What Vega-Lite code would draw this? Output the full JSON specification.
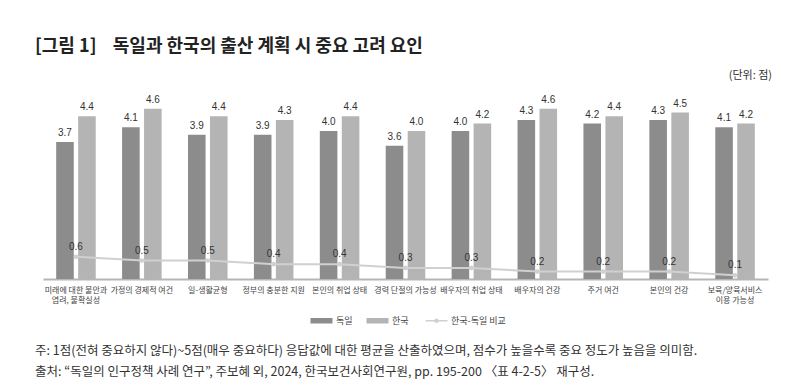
{
  "$schema": "https://vega.github.io/schema/vega-lite/v6.json",
  "padding": {"left": 35, "top": 38, "right": 10, "bottom": 0},
  "background": "white",
  "config": {
    "font": "Noto Sans CJK KR",
    "view": {"stroke": null},
    "axis": {"grid": false},
    "concat": {"spacing": 14}
  },
  "title": {
    "text": "[그림 1]\u00a0\u00a0\u00a0\u00a0독일과 한국의 출산 계획 시 중요 고려 요인",
    "anchor": "start",
    "fontSize": 18,
    "fontWeight": "bold",
    "color": "#222222",
    "offset": 14,
    "font": "Noto Sans CJK KR"
  },
  "datasets": {
    "bars": [
      {"category": "미래에 대한 불안과\n염려, 불확실성", "country": "독일", "value": 3.7},
      {"category": "미래에 대한 불안과\n염려, 불확실성", "country": "한국", "value": 4.4},
      {"category": "가정의 경제적 여건", "country": "독일", "value": 4.1},
      {"category": "가정의 경제적 여건", "country": "한국", "value": 4.6},
      {"category": "일-생활균형", "country": "독일", "value": 3.9},
      {"category": "일-생활균형", "country": "한국", "value": 4.4},
      {"category": "정부의 충분한 지원", "country": "독일", "value": 3.9},
      {"category": "정부의 충분한 지원", "country": "한국", "value": 4.3},
      {"category": "본인의 취업 상태", "country": "독일", "value": 4.0},
      {"category": "본인의 취업 상태", "country": "한국", "value": 4.4},
      {"category": "경력 단절의 가능성", "country": "독일", "value": 3.6},
      {"category": "경력 단절의 가능성", "country": "한국", "value": 4.0},
      {"category": "배우자의 취업 상태", "country": "독일", "value": 4.0},
      {"category": "배우자의 취업 상태", "country": "한국", "value": 4.2},
      {"category": "배우자의 건강", "country": "독일", "value": 4.3},
      {"category": "배우자의 건강", "country": "한국", "value": 4.6},
      {"category": "주거 여건", "country": "독일", "value": 4.2},
      {"category": "주거 여건", "country": "한국", "value": 4.4},
      {"category": "본인의 건강", "country": "독일", "value": 4.3},
      {"category": "본인의 건강", "country": "한국", "value": 4.5},
      {"category": "보육/양육서비스\n이용 가능성", "country": "독일", "value": 4.1},
      {"category": "보육/양육서비스\n이용 가능성", "country": "한국", "value": 4.2}
    ],
    "diff": [
      {"category": "미래에 대한 불안과\n염려, 불확실성", "diff": 0.6},
      {"category": "가정의 경제적 여건", "diff": 0.5},
      {"category": "일-생활균형", "diff": 0.5},
      {"category": "정부의 충분한 지원", "diff": 0.4},
      {"category": "본인의 취업 상태", "diff": 0.4},
      {"category": "경력 단절의 가능성", "diff": 0.3},
      {"category": "배우자의 취업 상태", "diff": 0.3},
      {"category": "배우자의 건강", "diff": 0.2},
      {"category": "주거 여건", "diff": 0.2},
      {"category": "본인의 건강", "diff": 0.2},
      {"category": "보육/양육서비스\n이용 가능성", "diff": 0.1}
    ],
    "notes": [
      {"line": 1, "text": "주: 1점(전혀 중요하지 않다)~5점(매우 중요하다) 응답값에 대한 평균을 산출하였으며, 점수가 높을수록 중요 정도가 높음을 의미함."},
      {"line": 2, "text": "출처: “독일의 인구정책 사례 연구”, 주보혜 외, 2024, 한국보건사회연구원, pp. 195-200 〈표 4-2-5〉 재구성."}
    ]
  },
  "vconcat": [
    {
      "width": 725,
      "height": 185,
      "title": {
        "text": "(단위: 점)",
        "anchor": "end",
        "fontSize": 11,
        "fontWeight": "normal",
        "color": "#333333",
        "dx": 4,
        "offset": 13
      },
      "layer": [
        {
          "data": {"name": "bars"},
          "mark": {"type": "bar"},
          "encoding": {
            "x": {
              "field": "category", "type": "nominal", "sort": null,
              "scale": {"paddingInner": 0.4, "paddingOuter": 0.2},
              "axis": {
                "title": null, "labelAngle": 0,
                "labelExpr": "split(datum.label, '\\n')",
                "labelFontSize": 8, "labelColor": "#444444",
                "labelPadding": 7, "labelLineHeight": 10,
                "labelBaseline": "top",
                "domainColor": "#b5b5b5", "domainWidth": 2,
                "ticks": false
              }
            },
            "xOffset": {"field": "country", "type": "nominal", "sort": ["독일", "한국"], "scale": {"paddingInner": 0.2}},
            "y": {
              "field": "value", "type": "quantitative", "scale": {"domain": [0, 5]},
              "axis": {"title": null, "labels": false, "ticks": false, "domain": false, "grid": false, "minExtent": 8, "maxExtent": 8}
            },
            "color": {
              "field": "country", "type": "nominal",
              "scale": {"domain": ["독일", "한국", "한국-독일 비교"], "range": ["#8c8c8c", "#b4b4b4", "#d0d0d0"]},
              "legend": {
                "title": null, "orient": "none", "legendX": 274, "legendY": 222,
                "direction": "horizontal", "labelFontSize": 9, "labelColor": "#444444",
                "labelOffset": 10, "columnPadding": 13, "symbolSize": 484,
                "encode": {
                  "symbols": {
                    "update": {
                      "shape": {"signal": "datum.value === '한국-독일 비교' ? 'M-1,0H1M-0.14,0A0.14,0.14,0,1,1,0.14,0A0.14,0.14,0,1,1,-0.14,0Z' : 'M-1,-0.25H1V0.25H-1Z'"},
                      "size": {"value": 484},
                      "fill": {"signal": "datum.value === '독일' ? '#8c8c8c' : datum.value === '한국' ? '#b4b4b4' : '#cccccc'"},
                      "stroke": {"signal": "datum.value === '한국-독일 비교' ? '#cccccc' : null"},
                      "strokeWidth": {"signal": "datum.value === '한국-독일 비교' ? 1.5 : 0"},
                      "opacity": {"value": 1}
                    }
                  }
                }
              }
            }
          }
        },
        {
          "data": {"name": "bars"},
          "mark": {"type": "text", "baseline": "bottom", "dy": -4, "fontSize": 10, "font": "Liberation Sans", "color": "#333333"},
          "encoding": {
            "x": {"field": "category", "type": "nominal", "sort": null},
            "xOffset": {"field": "country", "type": "nominal", "sort": ["독일", "한국"]},
            "y": {"field": "value", "type": "quantitative"},
            "text": {"field": "value", "type": "quantitative", "format": ".1f"}
          }
        },
        {
          "data": {"name": "diff"},
          "mark": {"type": "line", "strokeWidth": 2, "point": {"filled": true, "size": 22}},
          "encoding": {
            "x": {"field": "category", "type": "nominal", "sort": null},
            "y": {"field": "diff", "type": "quantitative"},
            "color": {"datum": "한국-독일 비교"}
          }
        },
        {
          "data": {"name": "diff"},
          "mark": {"type": "text", "baseline": "bottom", "dy": -5, "fontSize": 10, "font": "Liberation Sans", "color": "#333333"},
          "encoding": {
            "x": {"field": "category", "type": "nominal", "sort": null},
            "y": {"field": "diff", "type": "quantitative"},
            "text": {"field": "diff", "type": "quantitative", "format": ".1f"}
          }
        }
      ]
    },
    {
      "width": 725,
      "height": 42,
      "data": {"name": "notes"},
      "mark": {"type": "text", "align": "left", "baseline": "middle", "fontSize": 12.5, "color": "#333333", "dx": -8},
      "encoding": {
        "y": {"field": "line", "type": "ordinal", "axis": null},
        "x": {"datum": 0, "type": "quantitative", "scale": {"domain": [0, 1]}, "axis": null},
        "text": {"field": "text"}
      }
    }
  ],
  "resolve": {"legend": {"color": "independent"}}
}
